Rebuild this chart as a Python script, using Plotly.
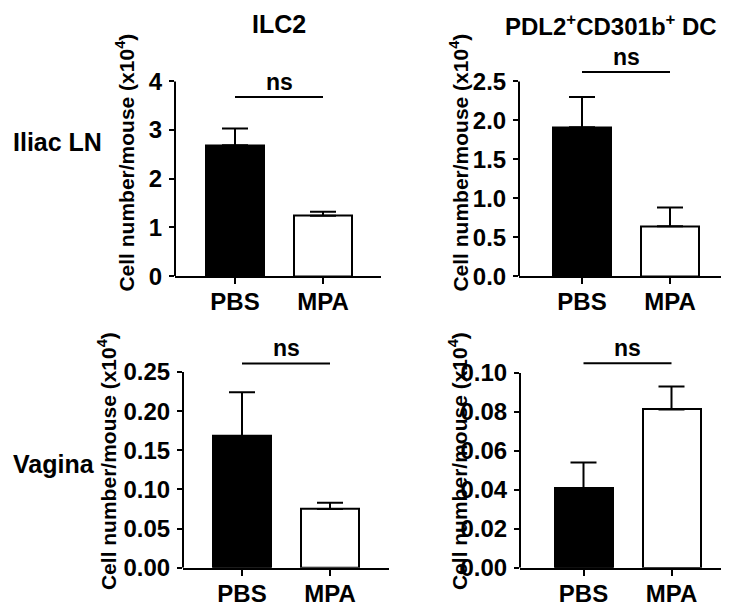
import plotly.graph_objects as go

# ---------------- data ----------------
groups = ["PBS", "MPA"]
ilc2_iliac = [2.69, 1.24]
ilc2_iliac_err = [0.34, 0.08]
dc_iliac = [1.91, 0.64]
dc_iliac_err = [0.39, 0.24]
ilc2_vagina = [0.168, 0.075]
ilc2_vagina_err = [0.056, 0.008]
dc_vagina = [0.0407, 0.0813]
dc_vagina_err = [0.0133, 0.0117]
ns_level = [3.68, 2.62, 0.261, 0.105]
y_top = [4, 2.5, 0.25, 0.10]
y_step = [1, 0.5, 0.05, 0.02]
y_format = ["d", ".1f", ".2f", ".2f"]
col_titles = ["ILC2", "PDL2<sup>+</sup>CD301b<sup>+</sup> DC"]
row_titles = ["Iliac LN", "Vagina"]
y_title = "Cell number/mouse (x10<sup>4</sup>)"
sig_text = "ns"

values = [ilc2_iliac, dc_iliac, ilc2_vagina, dc_vagina]
errors = [ilc2_iliac_err, dc_iliac_err, ilc2_vagina_err, dc_vagina_err]

# ---------------- layout (pixels) ----------------
W, H = 729, 605
FONT = "Liberation Sans, Arial, sans-serif"
TICK_SIZE = 24
panels = [
    dict(left=167, right=373, bottom=274, top=75, c0=227, ytx=117, yty=158),
    dict(left=511, right=722, bottom=274, top=75, c0=574, ytx=451, yty=158),
    dict(left=175, right=381, bottom=572, top=372, c0=234, ytx=99, yty=463),
    dict(left=512, right=723, bottom=572, top=373, c0=575.5, ytx=450, yty=463),
]
SPACING = 88.0
BARW = 58.0
EXT = 1.2  # extend y range above last tick to leave room for the ns bar


def px_x(p):
    return p / W


def px_y(p):
    return 1 - p / H


def bold(size):
    return dict(family=FONT, size=size, color="black", weight="bold")


fig = go.Figure()
shapes = []
annotations = []

for i, (pn, vals, errs) in enumerate(zip(panels, values, errors)):
    n = i + 1
    xa = "x" if n == 1 else f"x{n}"
    ya = "y" if n == 1 else f"y{n}"
    xkey = "xaxis" if n == 1 else f"xaxis{n}"
    ykey = "yaxis" if n == 1 else f"yaxis{n}"

    fig.add_trace(go.Bar(
        x=groups, y=vals, xaxis=xa, yaxis=ya,
        width=BARW / SPACING,
        marker=dict(color=["black", "white"], line=dict(color="black", width=2)),
        error_y=dict(type="data", array=errs, arrayminus=[0, 0], symmetric=False,
                     color="black", thickness=2, width=13),
        showlegend=False, hoverinfo="skip",
    ))

    plot_h = pn["bottom"] - pn["top"]
    dom_top = pn["bottom"] - plot_h * EXT
    lo = (pn["left"] - pn["c0"]) / SPACING
    hi = (pn["right"] - pn["c0"]) / SPACING
    top = y_top[i]
    nt = int(round(top / y_step[i]))
    tv = [k * y_step[i] for k in range(nt + 1)]

    fig.update_layout(**{
        xkey: dict(domain=[px_x(pn["left"]), px_x(pn["right"])], anchor=ya,
                   range=[lo, hi], showline=True, linecolor="black", linewidth=2,
                   ticks="outside", ticklen=6, tickwidth=2, tickcolor="black",
                   ticklabelstandoff=-3,
                   showgrid=False, zeroline=False, fixedrange=True,
                   tickfont=bold(TICK_SIZE)),
        ykey: dict(domain=[px_y(pn["bottom"]), px_y(dom_top)], anchor=xa,
                   range=[0, top * EXT], showline=False,
                   tickmode="array", tickvals=tv, tickformat=y_format[i],
                   ticks="outside", ticklen=5, tickwidth=2, tickcolor="black",
                   ticklabelstandoff=2,
                   showgrid=False, zeroline=False, fixedrange=True,
                   tickfont=bold(TICK_SIZE)),
    })

    # y axis line (stops at the top tick)
    shapes.append(dict(type="line", xref=f"{xa} domain", yref=ya, x0=0, x1=0, y0=0, y1=top,
                       line=dict(color="black", width=2)))
    # significance bar
    shapes.append(dict(type="line", xref=xa, yref=ya, x0=0, x1=1,
                       y0=ns_level[i], y1=ns_level[i], line=dict(color="black", width=2)))
    annotations.append(dict(text=sig_text, xref=xa, yref=ya, x=0.5, y=ns_level[i],
                            yanchor="bottom", xanchor="center", showarrow=False, yshift=0,
                            font=bold(23)))
    # y title
    annotations.append(dict(text=y_title, xref="paper", yref="paper",
                            x=px_x(pn["ytx"]), y=px_y(pn["yty"]), textangle=-90,
                            xanchor="center", yanchor="middle", showarrow=False,
                            font=bold(21)))

# column titles
annotations.append(dict(text=col_titles[0], xref="paper", yref="paper", x=px_x(271), y=1.0,
                        xanchor="center", yanchor="top", showarrow=False, font=bold(25)))
annotations.append(dict(text=col_titles[1], xref="paper", yref="paper", x=px_x(603), y=1.0,
                        xanchor="center", yanchor="top", showarrow=False, font=bold(24)))
# row titles
annotations.append(dict(text=row_titles[0], xref="paper", yref="paper", x=px_x(3), y=px_y(137),
                        xanchor="left", yanchor="middle", showarrow=False, font=bold(25)))
annotations.append(dict(text=row_titles[1], xref="paper", yref="paper", x=px_x(3), y=px_y(466),
                        xanchor="left", yanchor="middle", showarrow=False, font=bold(25)))

fig.update_layout(width=W, height=H, margin=dict(l=0, r=0, t=0, b=0),
                  paper_bgcolor="white", plot_bgcolor="white",
                  shapes=shapes, annotations=annotations, bargap=0)

fig.write_html("out.html")
